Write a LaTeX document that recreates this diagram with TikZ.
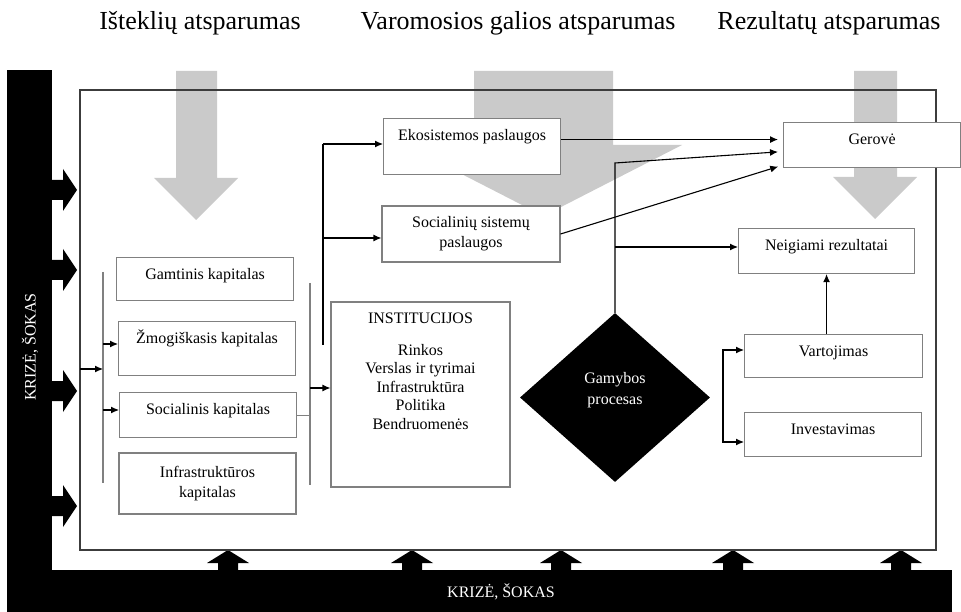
\documentclass[tikz,border=0pt]{standalone}
\usepackage{fontspec}
\setmainfont{Liberation Serif}
\usetikzlibrary{arrows.meta}
\usetikzlibrary{shapes.geometric}
\usetikzlibrary{calc}

\definecolor{arrowgray}{RGB}{202,202,202}
\definecolor{boxgray}{RGB}{128,128,128}
\definecolor{framegray}{RGB}{60,60,60}

\tikzset{
  box/.style={draw=boxgray, line width=1.1pt, fill=white, inner xsep=0pt, inner ysep=0pt,
    text height=22pt, anchor=north west, font=\fontsize{16}{20}\selectfont},
  twolinebox/.style={draw=boxgray, line width=1.1pt, fill=white, inner sep=0pt,
    align=center, font=\fontsize{16}{20}\selectfont},
  conn/.style={line width=1.1pt, -{Latex[length=8pt,width=7pt]}},
  brk/.style={draw=boxgray, line width=1.1pt},
  toplabel/.style={anchor=base, font=\fontsize{26}{30}\selectfont},
  crisis/.style={text=white, font=\fontsize{16}{20}\selectfont},
}

\begin{document}
\begin{tikzpicture}[x=1pt, y=-1pt]
  \useasboundingbox (0,0) rectangle (961,612);

  % Define the arrow sizes
  \def\shafthalf{10}
  \def\headhalf{21}

  % Draw the gray resilience arrows
  \foreach \sxl/\sxr/\hy/\hxl/\hxr/\tipy in {176/217/178/154/238/220, 474/613/145/405/682/216, 854/897/177/833/917/219} {
    \fill[arrowgray] (\sxl,71) -- (\sxr,71) -- (\sxr,\hy) -- (\hxr,\hy) -- ({(\hxl+\hxr)/2},\tipy)
      -- (\hxl,\hy) -- (\sxl,\hy) -- cycle;
  }

  % Draw the crisis bars
  \fill (7,70) rectangle (52,612);
  \fill (7,570) rectangle (952,612);

  % Draw the crisis arrows
  \foreach \y in {190,270,391,506} {
    \fill (51,\y-\shafthalf) -- (63,\y-\shafthalf) -- (63,\y-\headhalf) -- (77,\y)
      -- (63,\y+\headhalf) -- (63,\y+\shafthalf) -- (51,\y+\shafthalf) -- cycle;
  }
  \foreach \x in {228,412,561,733,901} {
    \fill (\x-\shafthalf,571) -- (\x-\shafthalf,563) -- (\x-\headhalf,563) -- (\x,550)
      -- (\x+\headhalf,563) -- (\x+\shafthalf,563) -- (\x+\shafthalf,571) -- cycle;
  }

  % Draw the system frame
  \draw[framegray, line width=1.4pt] (80,90) rectangle (936,550);

  % Draw the capital boxes
  \node (gamt) [box, minimum width=177pt, text depth=21pt] at (116,257) {Gamtinis kapitalas};
  \node (zmog) [box, minimum width=177pt, text depth=32pt] at (118,321) {Žmogiškasis kapitalas};
  \node (sockap) [box, minimum width=177pt, text depth=23pt] at (119,392) {Socialinis kapitalas};
  \node (infra) [twolinebox, minimum width=177pt, minimum height=61pt] at (207.5,483.5) {Infrastruktūros\\kapitalas};

  % Draw the services and institutions
  \node (eko) [box, minimum width=177pt, text depth=34pt] at (383,118) {Ekosistemos paslaugos};
  \node (socsis) [twolinebox, minimum width=178pt, minimum height=56pt] at (471,234) {Socialinių sistemų\\paslaugos};
  \node (inst) [twolinebox, minimum width=179pt, minimum height=185pt] at (420.5,394.5) {};
  \node (insttxt) [anchor=north, align=center, inner sep=0pt, font=\fontsize{16}{18.5}\selectfont] at (420.5,312.5)
    {INSTITUCIJOS\\[13.5pt]Rinkos\\Verslas ir tyrimai\\Infrastruktūra\\Politika\\Bendruomenės};

  % Draw the production process
  \node (gamyba) [diamond, fill=black, inner sep=0pt, minimum width=190pt, minimum height=169pt] at (615,397.5) {};
  \node (gamybatxt) [crisis, align=center, font=\fontsize{16}{21}\selectfont] at (615,390.5) {Gamybos\\procesas};

  % Draw the result boxes
  \node (gerove) [box, minimum width=177pt, text depth=23pt] at (783,122) {Gerovė};
  \node (neig) [box, minimum width=176pt, text depth=23pt] at (738,228) {Neigiami rezultatai};
  \node (vart) [box, minimum width=178pt, text depth=21pt] at (744,334) {Vartojimas};
  \node (invest) [box, minimum width=177pt, text depth=22pt] at (744,412) {Investavimas};

  % Bracket and branch points
  \coordinate (lin) at (80,369);
  \coordinate (lbrktop) at (103,272);
  \coordinate (lbrkbot) at (103,483);
  \coordinate (toZmog) at (103,344);
  \coordinate (toSoc) at (103,410);
  \coordinate (rbrktop) at (310,283);
  \coordinate (rbrkbot) at (310,485);
  \coordinate (instin) at (310,388);
  \coordinate (svctop) at (323,144);
  \coordinate (svcbot) at (323,345);
  \coordinate (toSocsis) at (323,238);
  \coordinate (ekoout) at ([yshift=7pt]eko.east);
  \coordinate (ptop) at (615,163);
  \coordinate (negin) at (615,247);
  \coordinate (vbrk) at (723,350);
  \coordinate (ibrk) at (723,442);

  % Draw the connectors
  \draw[brk] (lbrktop) -- (lbrkbot);
  \draw[conn] (lin) -- (lin -| lbrktop);
  \draw[conn] (toZmog) -- (toZmog -| zmog.west);
  \draw[conn] (toSoc) -- (toSoc -| sockap.west);
  \draw[brk] (sockap.east) -- (rbrktop |- sockap.east);
  \draw[brk] (rbrktop) -- (rbrkbot);
  \draw[conn] (instin) -- (instin -| inst.west);
  \draw[line width=1.1pt] (svctop) -- (svcbot);
  \draw[conn] (svctop) -- (svctop -| eko.west);
  \draw[conn] (toSocsis) -- (toSocsis -| socsis.west);
  \draw[conn, shorten >=5pt] (ekoout) -- (ekoout -| gerove.west);
  \draw[conn, shorten >=5pt] (socsis.east) -- ([yshift=3pt]gerove.south west);
  \draw[conn, shorten >=5pt] (gamyba.north) -- (ptop) -- ([yshift=-6.5pt]gerove.west);
  \draw[conn] (negin) -- (negin -| neig.west);
  \draw[conn] (neig.south |- vart.north) -- (neig.south);
  \draw[line width=1.1pt, {Latex[length=8pt,width=7pt]}-{Latex[length=8pt,width=7pt]}]
    (vbrk -| vart.west) -- (vbrk) -- (ibrk) -- (ibrk -| invest.west);

  % Draw the labels
  \node (istekliai) [toplabel] at (200,30) {Išteklių atsparumas};
  \node (varomoji) [toplabel] at (518,30) {Varomosios galios atsparumas};
  \node (rezultatai) [toplabel] at (829,30) {Rezultatų atsparumas};
  \node (krizebot) [crisis] at (501,592) {KRIZĖ, ŠOKAS};
  \node (krizeleft) [crisis, rotate=90] at (30,347) {KRIZĖ, ŠOKAS};
\end{tikzpicture}
\end{document}
